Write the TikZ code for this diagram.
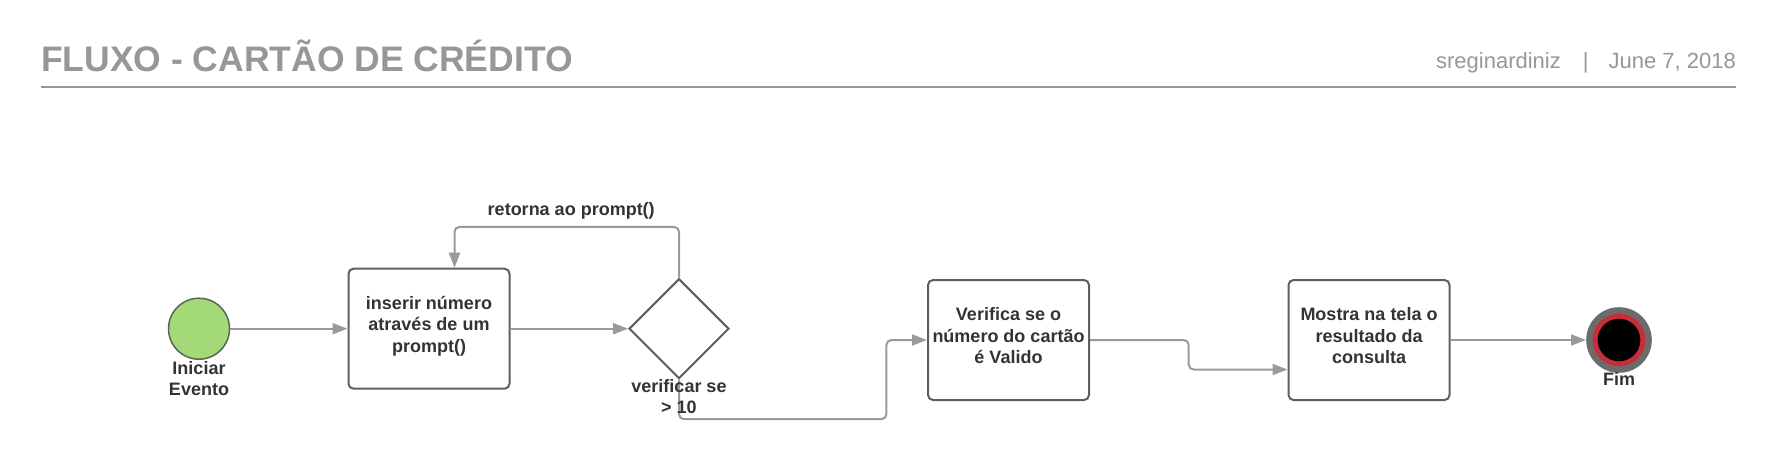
\documentclass[tikz,border=0pt]{standalone}
\usepackage{fontspec}
\setmainfont{Liberation Sans}
\usetikzlibrary{shapes.geometric, arrows.meta}

\definecolor{cinzatitulo}{HTML}{979797}
\definecolor{cinzaseta}{HTML}{9A9A9A}
\definecolor{cinzaborda}{HTML}{5E5E5E}
\definecolor{textoescuro}{HTML}{333333}
\definecolor{verdeinicio}{HTML}{A3D977}
\definecolor{bordainicio}{HTML}{5A6650}
\definecolor{cinzafim}{HTML}{6B6B6B}
\definecolor{vermelhofim}{HTML}{C92D39}

\begin{document}
\begin{tikzpicture}[x=1pt, y=-1pt,
  etapa/.style={rectangle, rounded corners=5pt, draw=cinzaborda, line width=2pt,
    minimum width=161pt, minimum height=120pt, inner sep=2pt, align=center,
    text depth=9pt, text=textoescuro, font=\bfseries\fontsize{18}{21.5}\selectfont},
  rotulo/.style={inner sep=0pt, align=center, text=textoescuro,
    font=\bfseries\fontsize{18}{21.5}\selectfont},
  seta/.style={draw=cinzaseta, line width=2pt, rounded corners=5pt,
    -{Triangle[length=15pt, width=11pt]}}]

\useasboundingbox (0,0) rectangle (1777,459);

% Header
\node[anchor=base west, inner sep=0pt, text=cinzatitulo,
  font=\bfseries\fontsize{35.5}{42}\selectfont] (titulo) at (40.8,71.4)
  {FLUXO - CARTÃO DE CRÉDITO};
\node[anchor=base east, inner sep=0pt, text=cinzatitulo,
  font=\fontsize{22}{26}\selectfont] (autor) at (1736,68)
  {sreginardiniz\hspace{22pt}|\hspace{20pt}June 7, 2018};
\coordinate (r1) at (40.8,87.3);
\coordinate (r2) at (1736,87.3);
\draw[cinzatitulo, line width=2pt] (r1) -- (r2);

% Define nodes
\node[circle, draw=bordainicio, line width=1.5pt, fill=verdeinicio,
  minimum size=61pt, inner sep=0pt] (1) at (199,328.7) {};
\node[etapa] (2) at (429,328.7) {inserir número\\através de um\\prompt()};
\node[diamond, draw=cinzaborda, line width=2pt, fill=white,
  minimum width=100pt, minimum height=100pt, inner sep=0pt] (3) at (679,328.7) {};
\node[etapa] (4) at (1008.5,340) {Verifica se o\\número do cartão\\é Valido};
\node[etapa] (5) at (1369,340) {Mostra na tela o\\resultado da\\consulta};
\node[circle, fill=cinzafim, minimum size=65.6pt, inner sep=0pt] (6) at (1619,340) {};
\fill[vermelhofim] (6) circle (26.3pt);
\fill[black] (6) circle (21.3pt);

% Draw edges
\draw[seta] (1) -- (2);
\draw[seta] (2) -- (3);
\draw[seta] (3.north) -- ++(0,-50.8)
  -- node[rotulo, above=7pt, pos=0.48] (l3) {retorna ao prompt()} ++(-224.5,0)
  -- ([xshift=25.5pt]2.north);
\draw[seta] (3.south) -- ++(0,39.5) -| ([xshift=-40.6pt]4.west) -- (4.west);
\draw[seta] (4.east) -- ++(98.7,0) |- ([yshift=-29.5pt]5.west);
\draw[seta] (5.east) -- (6.west);

% Labels
\node[rotulo, anchor=north] (l1) at (199,361) {Iniciar\\Evento};
\node[rotulo, anchor=north] (l2) at (679,379) {verificar se\\> 10};
\node[rotulo, anchor=north] (l6) at (1619,372.5) {Fim};
\end{tikzpicture}
\end{document}
